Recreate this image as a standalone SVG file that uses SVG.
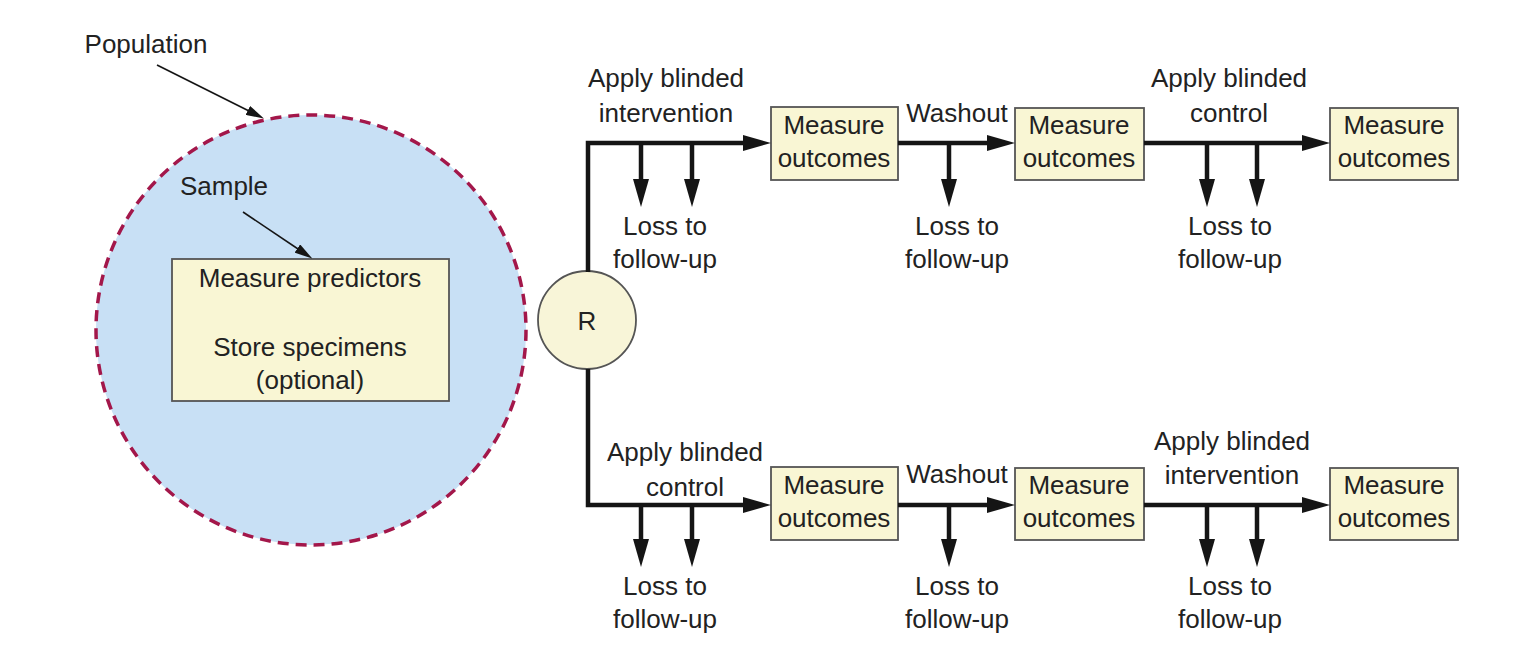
<svg xmlns="http://www.w3.org/2000/svg" width="1516" height="650" viewBox="0 0 1516 650">
<style>
text{font-family:"Liberation Sans",Arial,sans-serif;font-size:26px;fill:#222;text-anchor:middle}
.box{fill:#f9f6d4;stroke:#555;stroke-width:1.8}
.flow{stroke:#151515;stroke-width:4.5;fill:none}
.thin{stroke:#151515;stroke-width:1.6;fill:none}
</style>
<defs>
<marker id="ah" markerUnits="userSpaceOnUse" markerWidth="28" markerHeight="16" refX="14" refY="8" orient="auto"><path d="M0,0 L28,8 L0,16 z" fill="#151515"/></marker>
<marker id="ahs" markerUnits="userSpaceOnUse" markerWidth="18" markerHeight="10" refX="8" refY="5" orient="auto"><path d="M0,0 L18,5 L0,10 z" fill="#151515"/></marker>
</defs>
<rect width="1516" height="650" fill="#ffffff"/>
<g id="population">
<circle cx="311" cy="330" r="215" fill="#c8e0f5" stroke="#a3174a" stroke-width="3.5" stroke-dasharray="11,7"/>
<text x="146" y="53">Population</text>
</g>
<g id="sample">
<text x="224" y="195">Sample</text>
</g>
<g id="measure-predictors">
<rect class="box" x="172" y="259" width="277" height="142"/>
<text x="310" y="287">Measure predictors</text>
<text x="310" y="356">Store specimens</text>
<text x="310" y="389">(optional)</text>
</g>
<g id="randomize">
<circle cx="587" cy="320" r="49" fill="#f8f5d8" stroke="#555" stroke-width="1.8"/>
<text x="587" y="330">R</text>
</g>
<g id="top-m1"><rect class="box" x="771" y="107" width="127" height="73"/><text x="834" y="134">Measure</text><text x="834" y="167">outcomes</text></g>
<g id="top-m2"><rect class="box" x="1015" y="108" width="129" height="72"/><text x="1079" y="134">Measure</text><text x="1079" y="167">outcomes</text></g>
<g id="top-m3"><rect class="box" x="1330" y="108" width="128" height="72"/><text x="1394" y="134">Measure</text><text x="1394" y="167">outcomes</text></g>
<g id="bot-m1"><rect class="box" x="771" y="467" width="127" height="73"/><text x="834" y="494">Measure</text><text x="834" y="527">outcomes</text></g>
<g id="bot-m2"><rect class="box" x="1015" y="468" width="129" height="72"/><text x="1079" y="494">Measure</text><text x="1079" y="527">outcomes</text></g>
<g id="bot-m3"><rect class="box" x="1330" y="468" width="128" height="72"/><text x="1394" y="494">Measure</text><text x="1394" y="527">outcomes</text></g>
<g id="labels">
<text x="666" y="87">Apply blinded</text><text x="666" y="122">intervention</text>
<text x="957" y="122">Washout</text>
<text x="1229" y="87">Apply blinded</text><text x="1229" y="122">control</text>
<text x="665" y="235">Loss to</text><text x="665" y="268">follow-up</text>
<text x="957" y="235">Loss to</text><text x="957" y="268">follow-up</text>
<text x="1230" y="235">Loss to</text><text x="1230" y="268">follow-up</text>
<text x="685" y="461">Apply blinded</text><text x="685" y="496">control</text>
<text x="957" y="483">Washout</text>
<text x="1232" y="450">Apply blinded</text><text x="1232" y="484">intervention</text>
<text x="665" y="595">Loss to</text><text x="665" y="628">follow-up</text>
<text x="957" y="595">Loss to</text><text x="957" y="628">follow-up</text>
<text x="1230" y="595">Loss to</text><text x="1230" y="628">follow-up</text>
</g>
<g id="connectors">
<line class="thin" x1="157" y1="65" x2="255" y2="114" marker-end="url(#ahs)"/>
<line class="thin" x1="243" y1="212" x2="304" y2="253" marker-end="url(#ahs)"/>
<path class="flow" d="M588,272 V143 H757" marker-end="url(#ah)"/>
<path class="flow" d="M588,369 V505 H757" marker-end="url(#ah)"/>
<line class="flow" x1="898" y1="143" x2="1001" y2="143" marker-end="url(#ah)"/>
<line class="flow" x1="1144" y1="143" x2="1316" y2="143" marker-end="url(#ah)"/>
<line class="flow" x1="898" y1="505" x2="1001" y2="505" marker-end="url(#ah)"/>
<line class="flow" x1="1144" y1="505" x2="1316" y2="505" marker-end="url(#ah)"/>
<line class="flow" x1="641" y1="143" x2="641" y2="193" marker-end="url(#ah)"/>
<line class="flow" x1="692" y1="143" x2="692" y2="193" marker-end="url(#ah)"/>
<line class="flow" x1="949" y1="143" x2="949" y2="193" marker-end="url(#ah)"/>
<line class="flow" x1="1207" y1="143" x2="1207" y2="193" marker-end="url(#ah)"/>
<line class="flow" x1="1257" y1="143" x2="1257" y2="193" marker-end="url(#ah)"/>
<line class="flow" x1="641" y1="505" x2="641" y2="553" marker-end="url(#ah)"/>
<line class="flow" x1="692" y1="505" x2="692" y2="553" marker-end="url(#ah)"/>
<line class="flow" x1="949" y1="505" x2="949" y2="553" marker-end="url(#ah)"/>
<line class="flow" x1="1207" y1="505" x2="1207" y2="553" marker-end="url(#ah)"/>
<line class="flow" x1="1257" y1="505" x2="1257" y2="553" marker-end="url(#ah)"/>
</g>
</svg>
